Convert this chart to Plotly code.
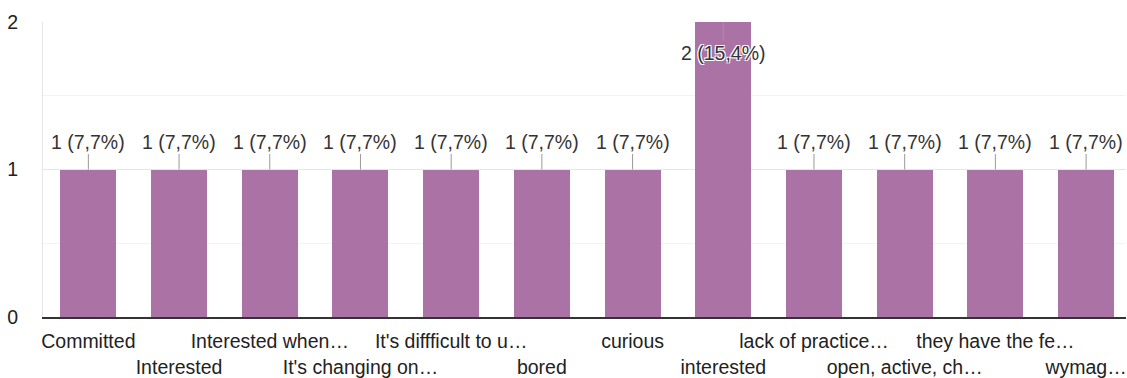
import plotly.graph_objects as go

# Survey answers (x-axis categories) and number of responses
categories = [
    "Committed",
    "Interested",
    "Interested when…",
    "It's changing on…",
    "It's diffficult to u…",
    "bored",
    "curious",
    "interested",
    "lack of practice…",
    "open, active, ch…",
    "they have the fe…",
    "wymag…",
]
counts = [1, 1, 1, 1, 1, 1, 1, 2, 1, 1, 1, 1]
y_ticks = [0, 1, 2]

total = sum(counts)
positions = list(range(len(categories)))

# Alternate labels onto two rows so the long answers don't collide
tick_text = [c if i % 2 == 0 else "\u00a0<br>" + c for i, c in enumerate(categories)]

BAR_COLOR = "#ab73a5"
TEXT_COLOR = "#222222"
FONT = "Liberation Sans, Arial, sans-serif"
FSIZE = 19.5

fig = go.Figure(
    go.Bar(
        x=positions,
        y=counts,
        width=0.617,
        marker=dict(color=BAR_COLOR, line=dict(width=0)),
        hoverinfo="skip",
    )
)

# Value labels with short leader lines: above short bars, inside the top of the tallest one
y_max = max(y_ticks)
for xi, v in zip(positions, counts):
    pct = f"{v / total * 100:.1f}".replace(".", ",")
    label = f"{v} ({pct}%)"
    inside = v >= y_max
    fig.add_annotation(
        x=xi,
        y=v,
        xref="x",
        yref="y",
        text=label,
        showarrow=True,
        arrowhead=0,
        arrowwidth=1,
        arrowcolor="#9a9a9a",
        ax=0,
        ay=31 if inside else -28,
        standoff=0,
        font=dict(
            family=FONT,
            size=FSIZE,
            color="#333333",
            shadow="1px 1px 0 #fff, -1px -1px 0 #fff, 1px -1px 0 #fff, -1px 1px 0 #fff" if inside else "none",
        ),
    )

fig.update_layout(
    width=1127,
    height=378,
    margin=dict(l=43, r=0, t=22, b=59),
    paper_bgcolor="white",
    plot_bgcolor="white",
    showlegend=False,
    font=dict(family=FONT, size=FSIZE, color=TEXT_COLOR),
    bargap=0,
)

fig.update_xaxes(
    tickmode="array",
    tickvals=positions,
    ticktext=tick_text,
    tickangle=0,
    ticklabeloverflow="allow",
    range=[-0.5, len(categories) - 0.56],
    showgrid=False,
    showline=True,
    linecolor="#333333",
    linewidth=1.5,
    ticks="",
    ticklabelstandoff=6,
    tickfont=dict(family=FONT, size=FSIZE, color=TEXT_COLOR),
    fixedrange=True,
)

fig.update_yaxes(
    range=[0, y_max],
    tickmode="array",
    tickvals=y_ticks,
    ticktext=[str(t) for t in y_ticks],
    showgrid=True,
    gridcolor="#e6e6e6",
    gridwidth=1,
    minor=dict(dtick=0.5, showgrid=True, gridcolor="#f3f3f3", gridwidth=1),
    zeroline=False,
    showline=True,
    linecolor="#e6e6e6",
    ticks="",
    ticklabelstandoff=20,
    tickfont=dict(family=FONT, size=FSIZE, color=TEXT_COLOR),
    fixedrange=True,
)

fig.write_html("out.html", config={"displayModeBar": False})
